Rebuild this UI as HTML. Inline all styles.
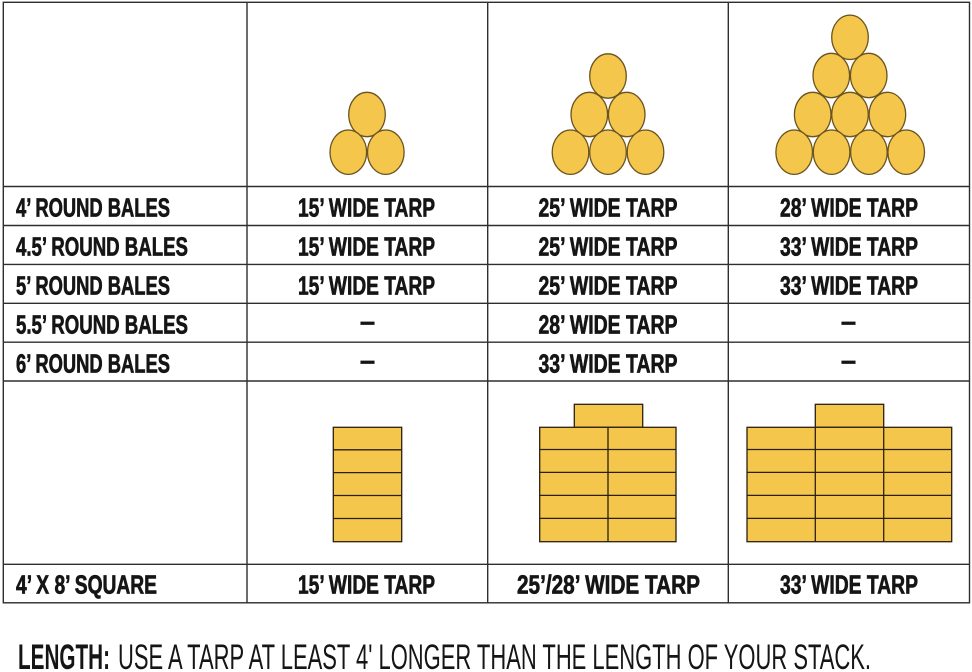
<!DOCTYPE html>
<html>
<head>
<meta charset="utf-8">
<style>
  html,body{margin:0;padding:0;background:#fff;}
  svg{display:block;}
  .b{font-family:"Liberation Sans Narrow","Liberation Sans",sans-serif;font-weight:bold;font-size:26px;fill:#151515;stroke:#151515;stroke-width:0.7px;}
  .f{font-family:"Liberation Sans Narrow","Liberation Sans",sans-serif;font-size:35px;fill:#151515;}
</style>
</head>
<body>
<svg width="972" height="672" viewBox="0 0 972 672" xmlns="http://www.w3.org/2000/svg">
  <rect x="0" y="0" width="972" height="672" fill="#fff"/>

  <!-- grid -->
  <g stroke="#2e2e2e" stroke-width="1.4" fill="none">
    <rect x="3.3" y="2.3" width="966.2" height="600.5"/>
    <line x1="247" y1="2.3" x2="247" y2="602.8"/>
    <line x1="487.7" y1="2.3" x2="487.7" y2="602.8"/>
    <line x1="728.3" y1="2.3" x2="728.3" y2="602.8"/>
    <line x1="3.3" y1="186.5" x2="969.5" y2="186.5"/>
    <line x1="3.3" y1="225.5" x2="969.5" y2="225.5"/>
    <line x1="3.3" y1="264.4" x2="969.5" y2="264.4"/>
    <line x1="3.3" y1="303.3" x2="969.5" y2="303.3"/>
    <line x1="3.3" y1="342.2" x2="969.5" y2="342.2"/>
    <line x1="3.3" y1="381" x2="969.5" y2="381"/>
    <line x1="3.3" y1="564.3" x2="969.5" y2="564.3"/>
  </g>

  <!-- round bales -->
  <g fill="#F4C64C" stroke="#6a5420" stroke-width="1.3">
    <ellipse cx="367" cy="114.5" rx="18.3" ry="22.2"/>
    <ellipse cx="348.3" cy="152.2" rx="18.3" ry="22.2"/>
    <ellipse cx="385.8" cy="152.2" rx="18.3" ry="22.2"/>
    <ellipse cx="608" cy="76" rx="18.3" ry="22.2"/>
    <ellipse cx="589.3" cy="114.5" rx="18.3" ry="22.2"/>
    <ellipse cx="626.7" cy="114.5" rx="18.3" ry="22.2"/>
    <ellipse cx="570.5" cy="152.2" rx="18.3" ry="22.2"/>
    <ellipse cx="608" cy="152.2" rx="18.3" ry="22.2"/>
    <ellipse cx="645.5" cy="152.2" rx="18.3" ry="22.2"/>
    <ellipse cx="850" cy="37.3" rx="18.3" ry="22.2"/>
    <ellipse cx="831.3" cy="75.5" rx="18.3" ry="22.2"/>
    <ellipse cx="868.7" cy="75.5" rx="18.3" ry="22.2"/>
    <ellipse cx="812.7" cy="114.5" rx="18.3" ry="22.2"/>
    <ellipse cx="850" cy="114.5" rx="18.3" ry="22.2"/>
    <ellipse cx="887.4" cy="114.5" rx="18.3" ry="22.2"/>
    <ellipse cx="794.2" cy="152.2" rx="18.3" ry="22.2"/>
    <ellipse cx="831.6" cy="152.2" rx="18.3" ry="22.2"/>
    <ellipse cx="868.9" cy="152.2" rx="18.3" ry="22.2"/>
    <ellipse cx="906.2" cy="152.2" rx="18.3" ry="22.2"/>
  </g>

  <!-- square bales -->
  <g fill="#F4C64C" stroke="#2a2010" stroke-width="1.3">
    <rect x="333.3" y="427.3" width="68.4" height="114.4"/>
    <rect x="574.3" y="404.3" width="68.4" height="23"/>
    <rect x="539.7" y="427.3" width="136.3" height="114.4"/>
    <rect x="815.3" y="404.3" width="68.4" height="23"/>
    <rect x="747" y="427.3" width="204.7" height="114.4"/>
  </g>
  <g stroke="#2a2010" stroke-width="1.3">
    <line x1="333.3" y1="449.8" x2="401.7" y2="449.8"/>
    <line x1="333.3" y1="472.6" x2="401.7" y2="472.6"/>
    <line x1="333.3" y1="495.5" x2="401.7" y2="495.5"/>
    <line x1="333.3" y1="518.5" x2="401.7" y2="518.5"/>

    <line x1="539.7" y1="449.5" x2="676" y2="449.5"/>
    <line x1="539.7" y1="472.4" x2="676" y2="472.4"/>
    <line x1="539.7" y1="495.4" x2="676" y2="495.4"/>
    <line x1="539.7" y1="518.4" x2="676" y2="518.4"/>
    <line x1="608" y1="427.3" x2="608" y2="541.7"/>

    <line x1="747" y1="449.5" x2="951.7" y2="449.5"/>
    <line x1="747" y1="472.4" x2="951.7" y2="472.4"/>
    <line x1="747" y1="495.4" x2="951.7" y2="495.4"/>
    <line x1="747" y1="518.4" x2="951.7" y2="518.4"/>
    <line x1="815.3" y1="427.3" x2="815.3" y2="541.7"/>
    <line x1="883.7" y1="427.3" x2="883.7" y2="541.7"/>
  </g>

  <!-- column 1 labels -->
  <text class="b" x="16" y="216.5" textLength="154" lengthAdjust="spacingAndGlyphs">4’ ROUND BALES</text>
  <text class="b" x="16" y="255.5" textLength="172" lengthAdjust="spacingAndGlyphs">4.5’ ROUND BALES</text>
  <text class="b" x="16" y="294.5" textLength="154" lengthAdjust="spacingAndGlyphs">5’ ROUND BALES</text>
  <text class="b" x="16" y="333.5" textLength="172" lengthAdjust="spacingAndGlyphs">5.5’ ROUND BALES</text>
  <text class="b" x="16" y="372.5" textLength="154" lengthAdjust="spacingAndGlyphs">6’ ROUND BALES</text>
  <text class="b" x="16" y="593.5" textLength="141" lengthAdjust="spacingAndGlyphs">4’ X 8’ SQUARE</text>

  <!-- column 2 -->
  <text class="b" x="298" y="216.5" textLength="137" lengthAdjust="spacingAndGlyphs">15’ WIDE TARP</text>
  <text class="b" x="298" y="255.5" textLength="137" lengthAdjust="spacingAndGlyphs">15’ WIDE TARP</text>
  <text class="b" x="298" y="294.5" textLength="137" lengthAdjust="spacingAndGlyphs">15’ WIDE TARP</text>
  <text class="b" x="360" y="330" textLength="15" lengthAdjust="spacingAndGlyphs">–</text>
  <text class="b" x="360" y="369" textLength="15" lengthAdjust="spacingAndGlyphs">–</text>
  <text class="b" x="298" y="593.5" textLength="137" lengthAdjust="spacingAndGlyphs">15’ WIDE TARP</text>

  <!-- column 3 -->
  <text class="b" x="538.5" y="216.5" textLength="139" lengthAdjust="spacingAndGlyphs">25’ WIDE TARP</text>
  <text class="b" x="538.5" y="255.5" textLength="139" lengthAdjust="spacingAndGlyphs">25’ WIDE TARP</text>
  <text class="b" x="538.5" y="294.5" textLength="139" lengthAdjust="spacingAndGlyphs">25’ WIDE TARP</text>
  <text class="b" x="538.5" y="333.5" textLength="139" lengthAdjust="spacingAndGlyphs">28’ WIDE TARP</text>
  <text class="b" x="538.5" y="372.5" textLength="139" lengthAdjust="spacingAndGlyphs">33’ WIDE TARP</text>
  <text class="b" x="517" y="593.5" textLength="183" lengthAdjust="spacingAndGlyphs">25’/28’ WIDE TARP</text>

  <!-- column 4 -->
  <text class="b" x="780" y="216.5" textLength="138" lengthAdjust="spacingAndGlyphs">28’ WIDE TARP</text>
  <text class="b" x="780" y="255.5" textLength="138" lengthAdjust="spacingAndGlyphs">33’ WIDE TARP</text>
  <text class="b" x="780" y="294.5" textLength="138" lengthAdjust="spacingAndGlyphs">33’ WIDE TARP</text>
  <text class="b" x="841" y="330" textLength="15" lengthAdjust="spacingAndGlyphs">–</text>
  <text class="b" x="841" y="369" textLength="15" lengthAdjust="spacingAndGlyphs">–</text>
  <text class="b" x="780" y="593.5" textLength="138" lengthAdjust="spacingAndGlyphs">33’ WIDE TARP</text>

  <!-- footer -->
  <text class="f" x="18" y="669" textLength="92" lengthAdjust="spacingAndGlyphs" font-weight="bold">LENGTH:</text>
  <text class="f" x="118" y="669" textLength="753" lengthAdjust="spacingAndGlyphs">USE A TARP AT LEAST 4' LONGER THAN THE LENGTH OF YOUR STACK.</text>
</svg>
</body>
</html>
